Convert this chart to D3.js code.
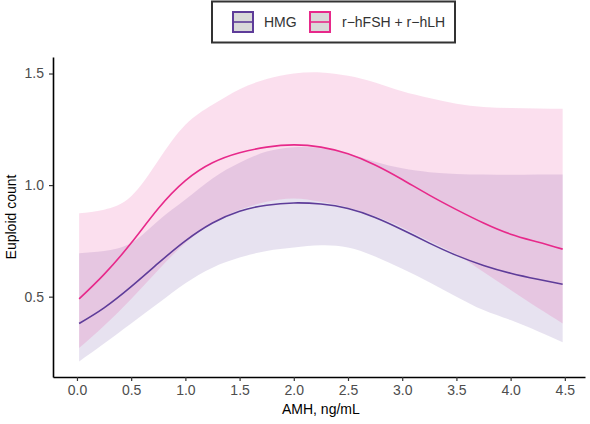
<!DOCTYPE html>
<html>
<head>
<meta charset="utf-8">
<script src="https://cdn.jsdelivr.net/npm/d3@7"></script>
<style>
  html, body { margin: 0; padding: 0; background: #fff; }
  svg { display: block; font-family: "Liberation Sans", Arial, sans-serif; }
</style>
</head>
<body>
<svg id="chart" width="590" height="424"></svg>
<script>
const amh     = [0.02,0.25,0.5,0.75,1.0,1.25,1.5,1.75,2.0,2.25,2.5,2.75,3.0,3.25,3.5,3.75,4.0,4.25,4.48];
const hmgFit  = [0.38,0.45,0.545,0.65,0.75,0.83,0.883,0.91,0.92,0.915,0.895,0.855,0.80,0.74,0.685,0.64,0.605,0.578,0.556];
const hmgLow  = [0.21,0.29,0.38,0.47,0.56,0.63,0.675,0.705,0.72,0.73,0.72,0.68,0.625,0.565,0.50,0.44,0.395,0.345,0.296];
const hmgHigh = [0.695,0.705,0.74,0.84,0.935,1.03,1.10,1.15,1.17,1.165,1.14,1.105,1.075,1.058,1.05,1.047,1.046,1.047,1.048];
const recFit  = [0.49,0.60,0.74,0.895,1.02,1.10,1.145,1.17,1.18,1.17,1.14,1.09,1.025,0.955,0.89,0.83,0.78,0.745,0.713];
const recLow  = [0.27,0.37,0.49,0.62,0.74,0.83,0.89,0.925,0.94,0.925,0.90,0.86,0.81,0.75,0.69,0.61,0.53,0.45,0.38];
const recHigh = [0.874,0.89,0.95,1.11,1.27,1.36,1.43,1.475,1.50,1.505,1.49,1.46,1.42,1.39,1.365,1.35,1.345,1.343,1.342];
const seriesNames = ["HMG", "r\u2212hFSH + r\u2212hLH"];
const seriesColors = ["#5e3c99", "#e7298a"];
const xTicks = [0,0.5,1.0,1.5,2.0,2.5,3.0,3.5,4.0,4.5];
const yTicks = [0.5,1.0,1.5];

const svg = d3.select("#chart");
const W = 590, H = 424;
const m = {left: 53, top: 57, right: 5, bottom: 47};
const x = d3.scaleLinear().domain([-0.221, 4.686]).range([m.left, W - m.right]);
const y = d3.scaleLinear().domain([0.14, 1.574]).range([H - m.bottom, m.top]);

const series = [
  {fit: hmgFit, low: hmgLow, high: hmgHigh},
  {fit: recFit, low: recLow, high: recHigh}
];

const area = d3.area().curve(d3.curveNatural)
  .x(d => x(d.x)).y0(d => y(d.lo)).y1(d => y(d.hi));
const line = d3.line().curve(d3.curveNatural)
  .x(d => x(d.x)).y(d => y(d.v));

series.forEach((s, i) => {
  const pts = amh.map((a, j) => ({x: a, lo: s.low[j], hi: s.high[j]}));
  svg.append("path").attr("d", area(pts))
    .attr("fill", seriesColors[i]).attr("fill-opacity", 0.15);
});
series.forEach((s, i) => {
  const pts = amh.map((a, j) => ({x: a, v: s.fit[j]}));
  svg.append("path").attr("d", line(pts))
    .attr("fill", "none").attr("stroke", seriesColors[i]).attr("stroke-width", 1.6);
});

// axes
const xAxis = d3.axisBottom(x).tickValues(xTicks).tickFormat(d3.format(".1f")).tickSize(4).tickSizeOuter(0);
const yAxis = d3.axisLeft(y).tickValues(yTicks).tickFormat(d3.format(".1f")).tickSize(4).tickSizeOuter(0);
const gx = svg.append("g").attr("transform", `translate(0,${H - m.bottom})`).call(xAxis);
const gy = svg.append("g").attr("transform", `translate(${m.left},0)`).call(yAxis);
[gx, gy].forEach(g => {
  g.select(".domain").attr("stroke", "#000").attr("stroke-width", 1.6);
  g.selectAll(".tick line").attr("stroke", "#333").attr("stroke-width", 1.2);
  g.selectAll(".tick text").attr("fill", "#4d4d4d").style("font-size", "14px");
});
gx.selectAll(".tick text").attr("dy", "0.8em");
gy.selectAll(".tick text").attr("dx", "-2");

svg.append("text").attr("x", x(2.25)).attr("y", 414).attr("text-anchor", "middle")
  .style("font-size", "14px").attr("fill", "#000").text("AMH, ng/mL");
svg.append("text").attr("transform", `translate(16,${(m.top + H - m.bottom) / 2}) rotate(-90)`)
  .attr("text-anchor", "middle").style("font-size", "14px").attr("fill", "#000").text("Euploid count");

// legend
const lg = svg.append("g");
lg.append("rect").attr("x", 212).attr("y", 1.5).attr("width", 243).attr("height", 41)
  .attr("fill", "#fff").attr("stroke", "#333").attr("stroke-width", 2);
const keyX = [233, 310], textX = [264, 342];
seriesNames.forEach((n, i) => {
  lg.append("rect").attr("x", keyX[i]).attr("y", 12).attr("width", 20).attr("height", 20)
    .attr("fill", "#d9d9d9").attr("stroke", seriesColors[i]).attr("stroke-width", 2);
  lg.append("line").attr("x1", keyX[i]).attr("x2", keyX[i] + 20).attr("y1", 22).attr("y2", 22)
    .attr("stroke", seriesColors[i]).attr("stroke-width", 1.6);
  lg.append("text").attr("x", textX[i]).attr("y", 27).style("font-size", "14px")
    .attr("fill", "#333").text(n);
});
</script>
</body>
</html>
